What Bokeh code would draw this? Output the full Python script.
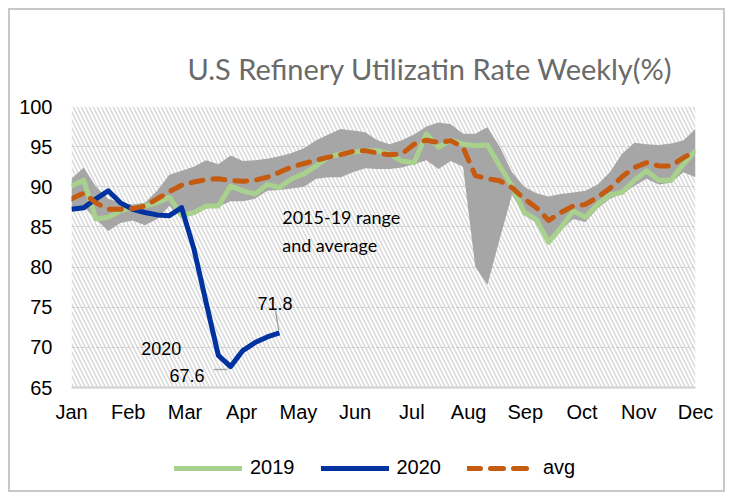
from bokeh.plotting import figure
from bokeh.layouts import column
from bokeh.models import Range1d, FixedTicker, Legend, LegendItem, Label, BoxAnnotation
from bokeh.embed import file_html
from bokeh.resources import INLINE

months = ["Jan", "Feb", "Mar", "Apr", "May", "Jun", "Jul", "Aug", "Sep", "Oct", "Nov", "Dec"]
weeks = list(range(52))

y2019 = [90.1, 90.8, 86.0, 86.2, 87.0, 87.4, 87.6, 88.0, 88.7, 86.4,
         86.8, 87.6, 87.6, 90.1, 89.5, 89.1, 90.3, 89.9, 91.0, 91.6,
         92.6, 93.7, 94.1, 94.3, 94.5, 94.5, 94.1, 93.2, 93.0, 96.6,
         94.9, 95.8, 95.3, 95.1, 95.2, 92.6, 90.1, 86.8, 85.9, 83.1,
         84.9, 87.0, 86.2, 87.8, 89.0, 89.3, 90.8, 92.0, 90.8, 90.8,
         92.8, 94.5]

y2020 = [87.2, 87.4, 88.5, 89.5, 88.0, 87.2, 86.8, 86.5, 86.4, 87.4,
         82.3, 75.6, 69.0, 67.6, 69.6, 70.6, 71.3, 71.8]

avg = [88.5, 89.2, 88.0, 87.2, 87.2, 87.3, 87.6, 88.5, 89.4, 90.2,
       90.6, 90.9, 91.0, 90.8, 90.7, 90.8, 91.2, 91.8, 92.5, 92.9,
       93.3, 93.7, 94.0, 94.4, 94.5, 94.2, 94.0, 94.1, 95.3, 95.8,
       95.5, 95.75, 94.9, 91.4, 91.0, 90.75, 89.9, 88.5, 87.4, 85.8,
       86.8, 87.6, 87.8, 88.7, 89.8, 91.25, 92.4, 93.0, 92.6, 92.6,
       93.6, 94.5]

range_low = [87.0, 87.5, 86.0, 84.5, 85.5, 85.8, 85.2, 86.0, 87.6, 86.2,
             86.5, 87.3, 87.5, 88.2, 88.2, 88.5, 89.5, 89.6, 89.8, 90.0,
             91.0, 91.2, 91.2, 91.8, 92.3, 92.2, 92.2, 92.4, 92.8, 93.3,
             92.2, 93.2, 92.5, 80.0, 77.8, 83.5, 89.0, 86.5, 85.5, 82.8,
             84.6, 86.0, 85.6, 87.3, 88.5, 89.1, 90.1, 91.0, 90.3, 90.5,
             91.8, 91.2]

range_high = [91.0, 92.4, 90.0, 88.5, 88.0, 87.8, 88.0, 89.5, 91.5, 92.0,
              92.5, 93.3, 92.8, 93.9, 93.2, 93.3, 93.5, 93.8, 94.2, 94.8,
              95.8, 96.5, 97.2, 97.0, 96.8, 95.8, 95.3, 95.8, 96.5, 97.5,
              98.0, 97.8, 96.6, 96.6, 97.4, 95.0, 91.8, 90.0, 89.2, 88.8,
              89.1, 89.3, 89.5, 90.3, 91.8, 94.1, 95.5, 95.3, 95.2, 95.4,
              95.75, 97.2]

y_ticks = [65, 70, 75, 80, 85, 90, 95, 100]

# x in "month label" units: week 0 -> first label, week 51 -> last label
scale = (len(months) - 1) / (len(weeks) - 1)
x_all = [w * scale for w in weeks]
x_2020 = [w * scale for w in weeks[:len(y2020)]]

GREEN, BLUE, ORANGE = "#a9d18e", "#0033a0", "#c55a11"

p = figure(width=713, height=435,
           x_range=Range1d(0, 11), y_range=Range1d(65, 100),
           output_backend="svg", toolbar_location=None,
           min_border_left=61, min_border_right=28,
           min_border_top=96, min_border_bottom=58)
p.outline_line_color = None
p.background_fill_color = "white"
p.border_fill_color = "white"

p.title.text = "U.S Refinery Utilizatin Rate Weekly(%)"
p.title.align = "left"
p.title.offset = 116
p.title.standoff = 41
p.title.text_font = "Lato"
p.title.text_font_size = "29px"
p.title.text_font_style = "normal"
p.title.text_color = "#6a6a6a"

hatch = BoxAnnotation(left=0, right=11, bottom=65, top=100,
                      fill_alpha=0, line_color=None,
                      hatch_pattern="\\", hatch_color="#d9d9d9",
                      hatch_weight=1.5, hatch_scale=8, level="image")
p.add_layout(hatch)

p.xgrid.visible = False
p.ygrid.grid_line_color = "#c8c8c8"
p.ygrid.grid_line_dash = "3 2"
p.ygrid.grid_line_width = 1

p.xaxis.ticker = FixedTicker(ticks=list(range(12)))
p.xaxis.major_label_overrides = {i: m for i, m in enumerate(months)}
p.xaxis.axis_line_color = "#d0d0d0"
p.xaxis.axis_line_width = 2
p.xaxis.major_tick_line_color = None
p.xaxis.minor_tick_line_color = None
p.xaxis.major_tick_out = 0
p.xaxis.major_tick_in = 0
p.xaxis.major_label_standoff = 13
p.xaxis.major_label_text_font = "Liberation Sans"
p.xaxis.major_label_text_font_size = "20px"
p.xaxis.major_label_text_color = "black"

p.yaxis.ticker = FixedTicker(ticks=y_ticks)
p.yaxis.axis_line_color = None
p.yaxis.major_tick_line_color = None
p.yaxis.minor_tick_line_color = None
p.yaxis.major_tick_out = 0
p.yaxis.major_tick_in = 0
p.yaxis.major_label_standoff = 19
p.yaxis.major_label_text_font = "Liberation Sans"
p.yaxis.major_label_text_font_size = "20px"
p.yaxis.major_label_text_color = "black"

p.varea(x=x_all, y1=range_low, y2=range_high, fill_color="#a6a6a6", fill_alpha=1)
p.line(x_all, y2019, line_color=GREEN, line_width=5, line_join="round")
p.line(x_2020, y2020, line_color=BLUE, line_width=5, line_join="round")
p.line(x_all, avg, line_color=ORANGE, line_width=5, line_dash="12 10",
       line_cap="round", line_join="round")

# leader lines for data labels
p.segment(x0=[2.509, 3.596], y0=[67.25, 74.6], x1=[2.745, 3.654], y1=[67.25, 72.1],
          line_color="#a6a6a6", line_width=1.5)

def lab(x, y, t, align="left", font="Liberation Sans", size="18px", color="black"):
    p.add_layout(Label(x=x, y=y, text=t, text_align=align, text_baseline="alphabetic",
                       text_font=font, text_font_size=size, text_color=color))

lab(3.714, 86.2, "2015-19 range", font="Lato", size="18px")
lab(3.714, 82.7, "and average", font="Lato", size="18px")
lab(1.934, 69.83, "2020", align="right")
lab(2.345, 66.5, "67.6", align="right")
lab(3.279, 75.5, "71.8")

# legend row (its frame is aligned with the main plot's frame by the column)
lg = figure(width=713, height=45, x_range=Range1d(0, 1), y_range=Range1d(0, 1),
            output_backend="svg", toolbar_location=None, min_border=0)
lg.axis.visible = False
lg.grid.visible = False
lg.outline_line_color = None
lg.border_fill_color = "white"
# legend-only renderers: placed outside the visible range
g = lg.line([-5, -4], [-5, -5], line_color=GREEN, line_width=5, line_cap="round")
b = lg.line([-5, -4], [-5, -5], line_color=BLUE, line_width=5, line_cap="round")
o = lg.line([-5, -4], [-5, -5], line_color=ORANGE, line_width=5, line_dash="13 10",
            line_cap="round")
legend = Legend(items=[LegendItem(label="2019", renderers=[g]),
                       LegendItem(label="2020", renderers=[b]),
                       LegendItem(label="avg", renderers=[o])],
                orientation="horizontal", location=(103, 11),
                glyph_width=68, label_standoff=8, spacing=26,
                border_line_color=None, background_fill_alpha=0,
                label_text_font="Liberation Sans", label_text_font_size="20px",
                label_text_color="black", margin=0, padding=0)
lg.add_layout(legend)

layout = column(p, lg, spacing=0,
                styles={"border": "2px solid #c8c8c8", "margin-left": "8px", "margin-top": "8px"})

open("out.html", "w").write(file_html(layout, INLINE))
